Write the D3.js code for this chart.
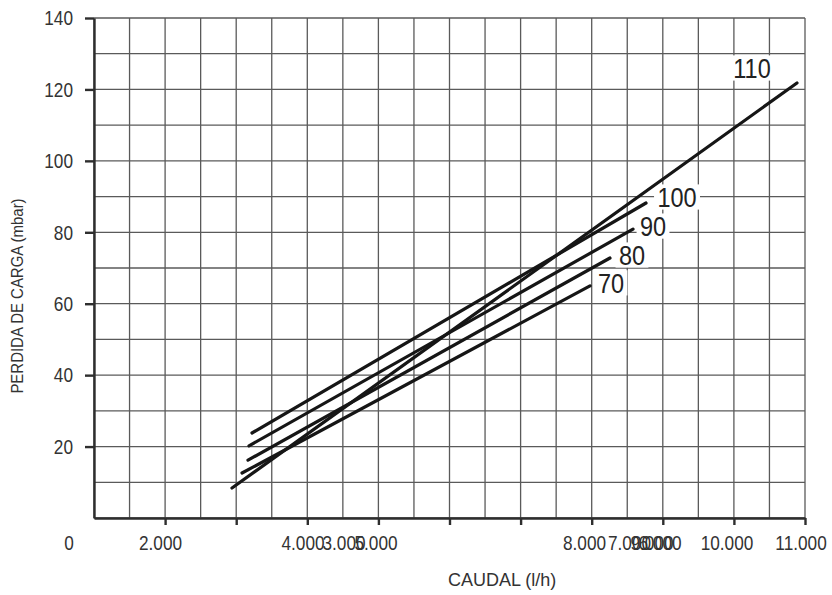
<!DOCTYPE html>
<html>
<head>
<meta charset="utf-8">
<script src="https://cdn.jsdelivr.net/npm/d3@7"></script>
<style>
  html, body { margin: 0; padding: 0; background: #fff; }
  svg { display: block; }
  .grid line { stroke: #5a5a5a; stroke-width: 1.3; }
  .axis path, .axis line { stroke: #2e2e2e; stroke-width: 2.4; }
  .axis text, .num { font-family: "Liberation Sans", Arial, sans-serif; font-size: 21px; fill: #333; }
  .title { font-family: "Liberation Sans", Arial, sans-serif; fill: #333; }
  .curve { fill: none; stroke: #161616; stroke-width: 3.2; stroke-linecap: round; }
  .curve-label { font-family: "Liberation Sans", Arial, sans-serif; font-size: 28px; fill: #222; }
</style>
</head>
<body>
<div id="chart"></div>
<script>
// one straight line per valve setting, start and end
const settings = ["70", "80", "90", "100", "110"];
const flowStart = [3082, 3166, 3180, 3222, 2941];   // l/h
const lossStart = [12.6, 16.2, 20.2, 23.8, 8.4];    // mbar
const flowEnd = [7976, 8257, 8581, 8764, 10887];
const lossEnd = [65.0, 72.8, 80.9, 88.2, 121.8];

// axis ticks
const xTicks = [2000, 3000, 4000, 5000, 6000, 7000, 8000, 9000, 10000, 11000];
const yTicks = [20, 40, 60, 80, 100, 120, 140];

// the x tick labels sit where the original put them (several overlap)
const xLabelText = ["0", "2.000", "4.000", "3.000", "5.000", "8.000", "7.000", "9.000", "6.000", "10.000", "11.000"];
const xLabelAt = [648, 1935, 3940, 4516, 4966, 7899, 8532, 8848, 8961, 9903, 10944];

const width = 832, height = 595;
const margin = { top: 18, right: 27, bottom: 77, left: 94 };
const narrow = 0.82; // no condensed font installed, squeeze the digits instead

const svg = d3.select("#chart").append("svg")
  .attr("width", width)
  .attr("height", height);

const x = d3.scaleLinear().domain([1000, 11000]).range([margin.left, width - margin.right]);
const y = d3.scaleLinear().domain([0, 140]).range([height - margin.bottom, margin.top]);

// grid, every 500 l/h and every 10 mbar
const grid = svg.append("g").attr("class", "grid");
grid.selectAll(".gx")
  .data(d3.range(1000, 11001, 500))
  .enter().append("line")
  .attr("x1", d => x(d)).attr("x2", d => x(d))
  .attr("y1", y(0)).attr("y2", y(140));
grid.selectAll(".gy")
  .data(d3.range(0, 141, 10))
  .enter().append("line")
  .attr("x1", x(1000)).attr("x2", x(11000))
  .attr("y1", d => y(d)).attr("y2", d => y(d));

// axes
svg.append("g")
  .attr("class", "axis")
  .attr("transform", `translate(0,${y(0)})`)
  .call(d3.axisBottom(x).tickValues(xTicks).tickSize(7).tickSizeOuter(0).tickFormat(""));

const yAxis = svg.append("g")
  .attr("class", "axis")
  .attr("transform", `translate(${x(1000)},0)`)
  .call(d3.axisLeft(y).tickValues(yTicks).tickSize(9).tickSizeOuter(0).tickPadding(12).tickFormat(d3.format("d")));

yAxis.selectAll("text")
  .attr("x", -21 / narrow)
  .attr("transform", `scale(${narrow},1)`);

svg.selectAll(".xlab")
  .data(xLabelText)
  .enter().append("text")
  .attr("class", "num")
  .attr("transform", (d, i) => `translate(${x(xLabelAt[i])},${y(0) + 25}) scale(${narrow},1)`)
  .attr("dy", "0.32em")
  .attr("text-anchor", "middle")
  .text(d => d);

// curves
const curves = settings.map((s, i) => ({
  name: s,
  pts: [[flowStart[i], lossStart[i]], [flowEnd[i], lossEnd[i]]]
}));

// white patches behind the labels go under the lines, so they only cut the grid
const patchLayer = svg.append("g");

const line = d3.line().x(d => x(d[0])).y(d => y(d[1]));

svg.append("g").selectAll("path")
  .data(curves)
  .enter().append("path")
  .attr("class", "curve")
  .attr("d", d => line(d.pts));

// label offsets from the end of each line, in px
const labelDx = { "70": 21, "80": 22, "90": 20, "100": 31, "110": -45 };
const labelDy = { "70": -3, "80": -3, "90": -3, "100": -6, "110": -15 };
const labelSize = 28;

const labels = svg.append("g");
curves.forEach(c => {
  const end = c.pts[1];
  const pos = `translate(${x(end[0]) + labelDx[c.name]},${y(end[1]) + labelDy[c.name]}) scale(0.84,1)`;
  const t = labels.append("text")
    .attr("class", "curve-label")
    .attr("transform", pos)
    .attr("text-anchor", "middle")
    .attr("dy", "0.36em")
    .text(c.name);
  const bb = t.node().getBBox();
  patchLayer.append("rect")
    .attr("transform", pos)
    .attr("x", bb.x - 4)
    .attr("y", -0.45 * labelSize)
    .attr("width", bb.width + 8)
    .attr("height", 0.9 * labelSize)
    .attr("fill", "#fff");
});

// axis titles
svg.append("text")
  .attr("class", "title")
  .attr("x", x(6740))
  .attr("y", height - 9)
  .attr("text-anchor", "middle")
  .style("font-size", "18px")
  .text("CAUDAL (l/h)");

svg.append("text")
  .attr("class", "title")
  .attr("transform", `translate(23,296) rotate(-90) scale(0.88,1)`)
  .attr("text-anchor", "middle")
  .style("font-size", "17px")
  .text("PERDIDA DE CARGA (mbar)");
</script>
</body>
</html>
